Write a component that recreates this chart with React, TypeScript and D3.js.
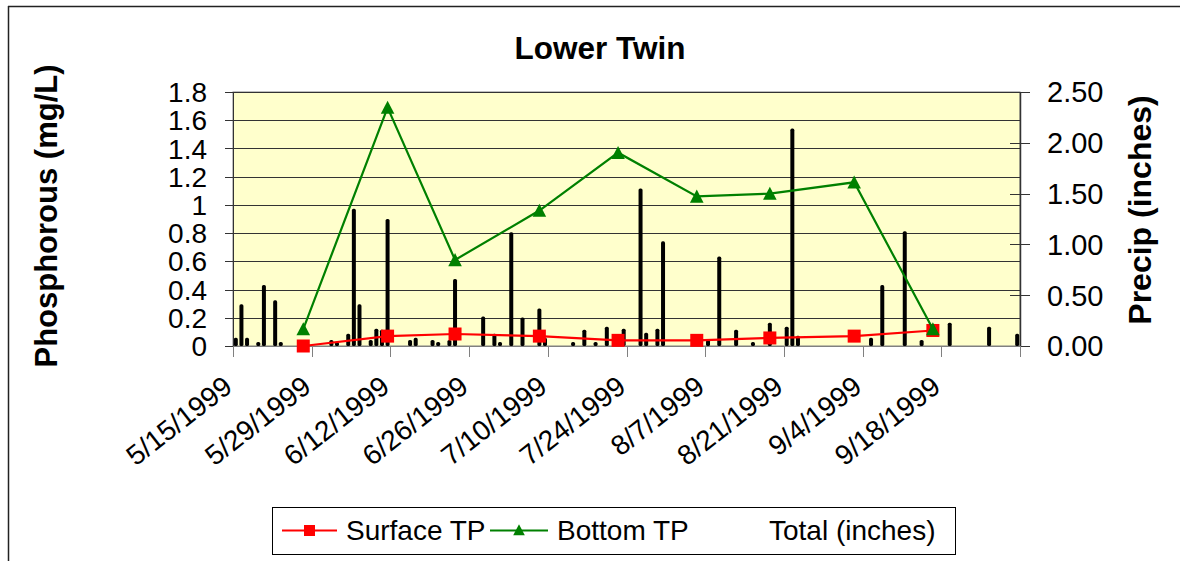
import React from 'react';
import * as d3 from 'd3';

// sampling dates for the lake profile (TP)
const sampleDates = ['1999-05-27', '1999-06-11', '1999-06-23', '1999-07-08', '1999-07-22', '1999-08-05', '1999-08-18', '1999-09-02', '1999-09-16'];
const surfaceTP = [0.0, 0.07, 0.085, 0.07, 0.04, 0.04, 0.057, 0.07, 0.11];
const bottomTP = [0.12, 1.69, 0.61, 0.96, 1.37, 1.06, 1.08, 1.16, 0.12];

// daily precipitation totals (inches)
const precipDates = [
  '1999-05-15', '1999-05-16', '1999-05-17', '1999-05-19', '1999-05-20', '1999-05-22', '1999-05-23',
  '1999-06-01', '1999-06-02', '1999-06-04', '1999-06-05', '1999-06-06', '1999-06-08', '1999-06-09',
  '1999-06-10', '1999-06-11', '1999-06-15', '1999-06-16', '1999-06-19', '1999-06-20', '1999-06-22',
  '1999-06-23', '1999-06-28', '1999-06-30', '1999-07-01', '1999-07-03', '1999-07-05', '1999-07-08',
  '1999-07-09', '1999-07-14', '1999-07-16', '1999-07-18', '1999-07-20', '1999-07-23', '1999-07-26',
  '1999-07-27', '1999-07-29', '1999-07-30', '1999-08-07', '1999-08-09', '1999-08-12', '1999-08-15',
  '1999-08-18', '1999-08-21', '1999-08-22', '1999-08-23', '1999-09-05', '1999-09-07', '1999-09-11',
  '1999-09-14', '1999-09-19', '1999-09-26', '1999-10-01',
];
const precipTotals = [
  0.08, 0.41, 0.08, 0.04, 0.6, 0.45, 0.04,
  0.06, 0.04, 0.12, 1.35, 0.41, 0.06, 0.17,
  0.16, 1.25, 0.06, 0.08, 0.06, 0.04, 0.06,
  0.66, 0.29, 0.12, 0.04, 1.12, 0.28, 0.37,
  0.08, 0.04, 0.16, 0.04, 0.19, 0.17, 1.55,
  0.13, 0.17, 1.03, 0.06, 0.88, 0.16, 0.04,
  0.23, 0.19, 2.14, 0.1, 0.08, 0.6, 1.13,
  0.06, 0.23, 0.19, 0.12,
];

const xDomain = ['1999-05-15', '1999-10-02'];
const dateTicks = ['1999-05-15', '1999-05-29', '1999-06-12', '1999-06-26', '1999-07-10', '1999-07-24', '1999-08-07', '1999-08-21', '1999-09-04', '1999-09-18'];
const phosTicks = [0, 0.2, 0.4, 0.6, 0.8, 1, 1.2, 1.4, 1.6, 1.8];
const precipTicks = [0, 0.5, 1, 1.5, 2, 2.5];

const FONT = '"Liberation Sans", Arial, sans-serif';
const parse = d3.utcParse('%Y-%m-%d');
const fmtDate = d3.utcFormat('%-m/%-d/%Y');
const HALF_DAY = 12 * 3600 * 1000;

const App = () => {
  const width = 1180;
  const height = 561;
  const plot = { left: 233, right: 1020, top: 92, bottom: 346 };

  const x = d3.scaleUtc()
    .domain(xDomain.map(d => parse(d)))
    .range([plot.left, plot.right]);
  const yL = d3.scaleLinear().domain([0, 1.8]).range([plot.bottom, plot.top]);
  const yR = d3.scaleLinear().domain([0, 2.5]).range([plot.bottom, plot.top]);

  // points sit in the middle of their day
  const xc = (d) => x(new Date(+parse(d) + HALF_DAY));

  const tickMarks = d3.utcDay.range(parse(xDomain[0]), d3.utcDay.offset(parse(xDomain[1]), 1), 14);

  const tpLine = d3.line().x(d => xc(d[0])).y(d => yL(d[1]));
  const surfPts = sampleDates.map((d, i) => [d, surfaceTP[i]]);
  const botPts = sampleDates.map((d, i) => [d, bottomTP[i]]);

  const tri = (cx, cy, s) => `M${cx},${cy - s}L${cx + s},${cy + s * 0.92}L${cx - s},${cy + s * 0.92}Z`;

  return (
    <svg width={width} height={height} style={{ position: 'absolute', left: 0, top: 0, background: 'white' }} fontFamily={FONT}>
      {/* outer chart border */}
      <line x1={8} x2={width} y1={6.5} y2={6.5} stroke="#222" strokeWidth={1.5} />
      <line x1={8.5} x2={8.5} y1={6} y2={height} stroke="#222" strokeWidth={1.5} />

      <text x={600} y={59} textAnchor="middle" fontSize={31.5} fontWeight="bold">Lower Twin</text>

      {/* plot area */}
      <rect x={plot.left} y={plot.top} width={plot.right - plot.left} height={plot.bottom - plot.top} fill="#FFFFCC" stroke="#808080" />
      {phosTicks.slice(1).map(t => (
        <line key={t} x1={plot.left} x2={plot.right} y1={Math.round(yL(t)) + 0.5} y2={Math.round(yL(t)) + 0.5} stroke="#333" strokeWidth={1} />
      ))}

      {/* precipitation bars */}
      {precipDates.map((d, i) => {
        const h = plot.bottom - yR(precipTotals[i]);
        return <rect key={d} x={xc(d) - 2} y={yR(precipTotals[i])} width={4} height={h} rx={1.6} fill="black" />;
      })}

      {/* left axis */}
      <line x1={plot.left + 0.5} x2={plot.left + 0.5} y1={plot.top} y2={plot.bottom} stroke="#333" />
      {phosTicks.map(t => (
        <g key={t}>
          <line x1={plot.left - 8} x2={plot.left} y1={Math.round(yL(t)) + 0.5} y2={Math.round(yL(t)) + 0.5} stroke="#333" />
          <text x={207} y={yL(t)} dy="0.36em" textAnchor="end" fontSize={28}>{String(+t.toFixed(1))}</text>
        </g>
      ))}

      {/* right axis */}
      <line x1={plot.right + 0.5} x2={plot.right + 0.5} y1={plot.top} y2={plot.bottom} stroke="#333" strokeWidth={1.5} />
      {precipTicks.map(t => (
        <g key={t}>
          <line x1={plot.right - 10} x2={plot.right + 10} y1={Math.round(yR(t)) + 0.5} y2={Math.round(yR(t)) + 0.5} stroke="#333" />
          <text x={1047} y={yR(t)} dy="0.36em" fontSize={29}>{t.toFixed(2)}</text>
        </g>
      ))}

      {/* bottom axis */}
      <line x1={plot.left} x2={plot.right} y1={plot.bottom + 0.5} y2={plot.bottom + 0.5} stroke="#808080" />
      {tickMarks.map(t => (
        <line key={+t} x1={Math.round(x(t)) + 0.5} x2={Math.round(x(t)) + 0.5} y1={plot.bottom} y2={plot.bottom + 11} stroke="#808080" />
      ))}
      {dateTicks.map(d => (
        <text key={d} transform={`translate(${x(parse(d)) + 1},${390}) rotate(-38)`} textAnchor="end" fontSize={28}>
          {fmtDate(parse(d))}
        </text>
      ))}

      {/* TP series */}
      <path d={tpLine(surfPts)} fill="none" stroke="#FF0000" strokeWidth={2.2} />
      {surfPts.map(p => (
        <rect key={p[0]} x={xc(p[0]) - 6.5} y={yL(p[1]) - 6.5} width={13} height={13} fill="#FF0000" />
      ))}
      <path d={tpLine(botPts)} fill="none" stroke="#008000" strokeWidth={2.2} />
      {botPts.map(p => (
        <path key={p[0]} d={tri(xc(p[0]), yL(p[1]), 6.8)} fill="#008000" />
      ))}

      {/* axis titles */}
      <text transform={`translate(57,216) rotate(-90)`} textAnchor="middle" fontSize={31} fontWeight="bold">Phosphorous (mg/L)</text>
      <text transform={`translate(1151,210) rotate(-90)`} textAnchor="middle" fontSize={32} fontWeight="bold">Precip (inches)</text>

      {/* legend */}
      <rect x={272.5} y={507.5} width={683} height={47} fill="white" stroke="black" />
      <line x1={282} x2={337} y1={530.5} y2={530.5} stroke="#FF0000" strokeWidth={2.2} />
      <rect x={304} y={525} width={11} height={11} fill="#FF0000" />
      <text x={346} y={530} dy="0.36em" fontSize={28}>Surface TP</text>
      <line x1={490} x2={548} y1={530.5} y2={530.5} stroke="#008000" strokeWidth={2.2} />
      <path d={tri(519, 530, 5.8)} fill="#008000" />
      <text x={557} y={530} dy="0.36em" fontSize={28}>Bottom TP</text>
      <text x={769} y={530} dy="0.36em" fontSize={28}>Total (inches)</text>
    </svg>
  );
};

export default App;
